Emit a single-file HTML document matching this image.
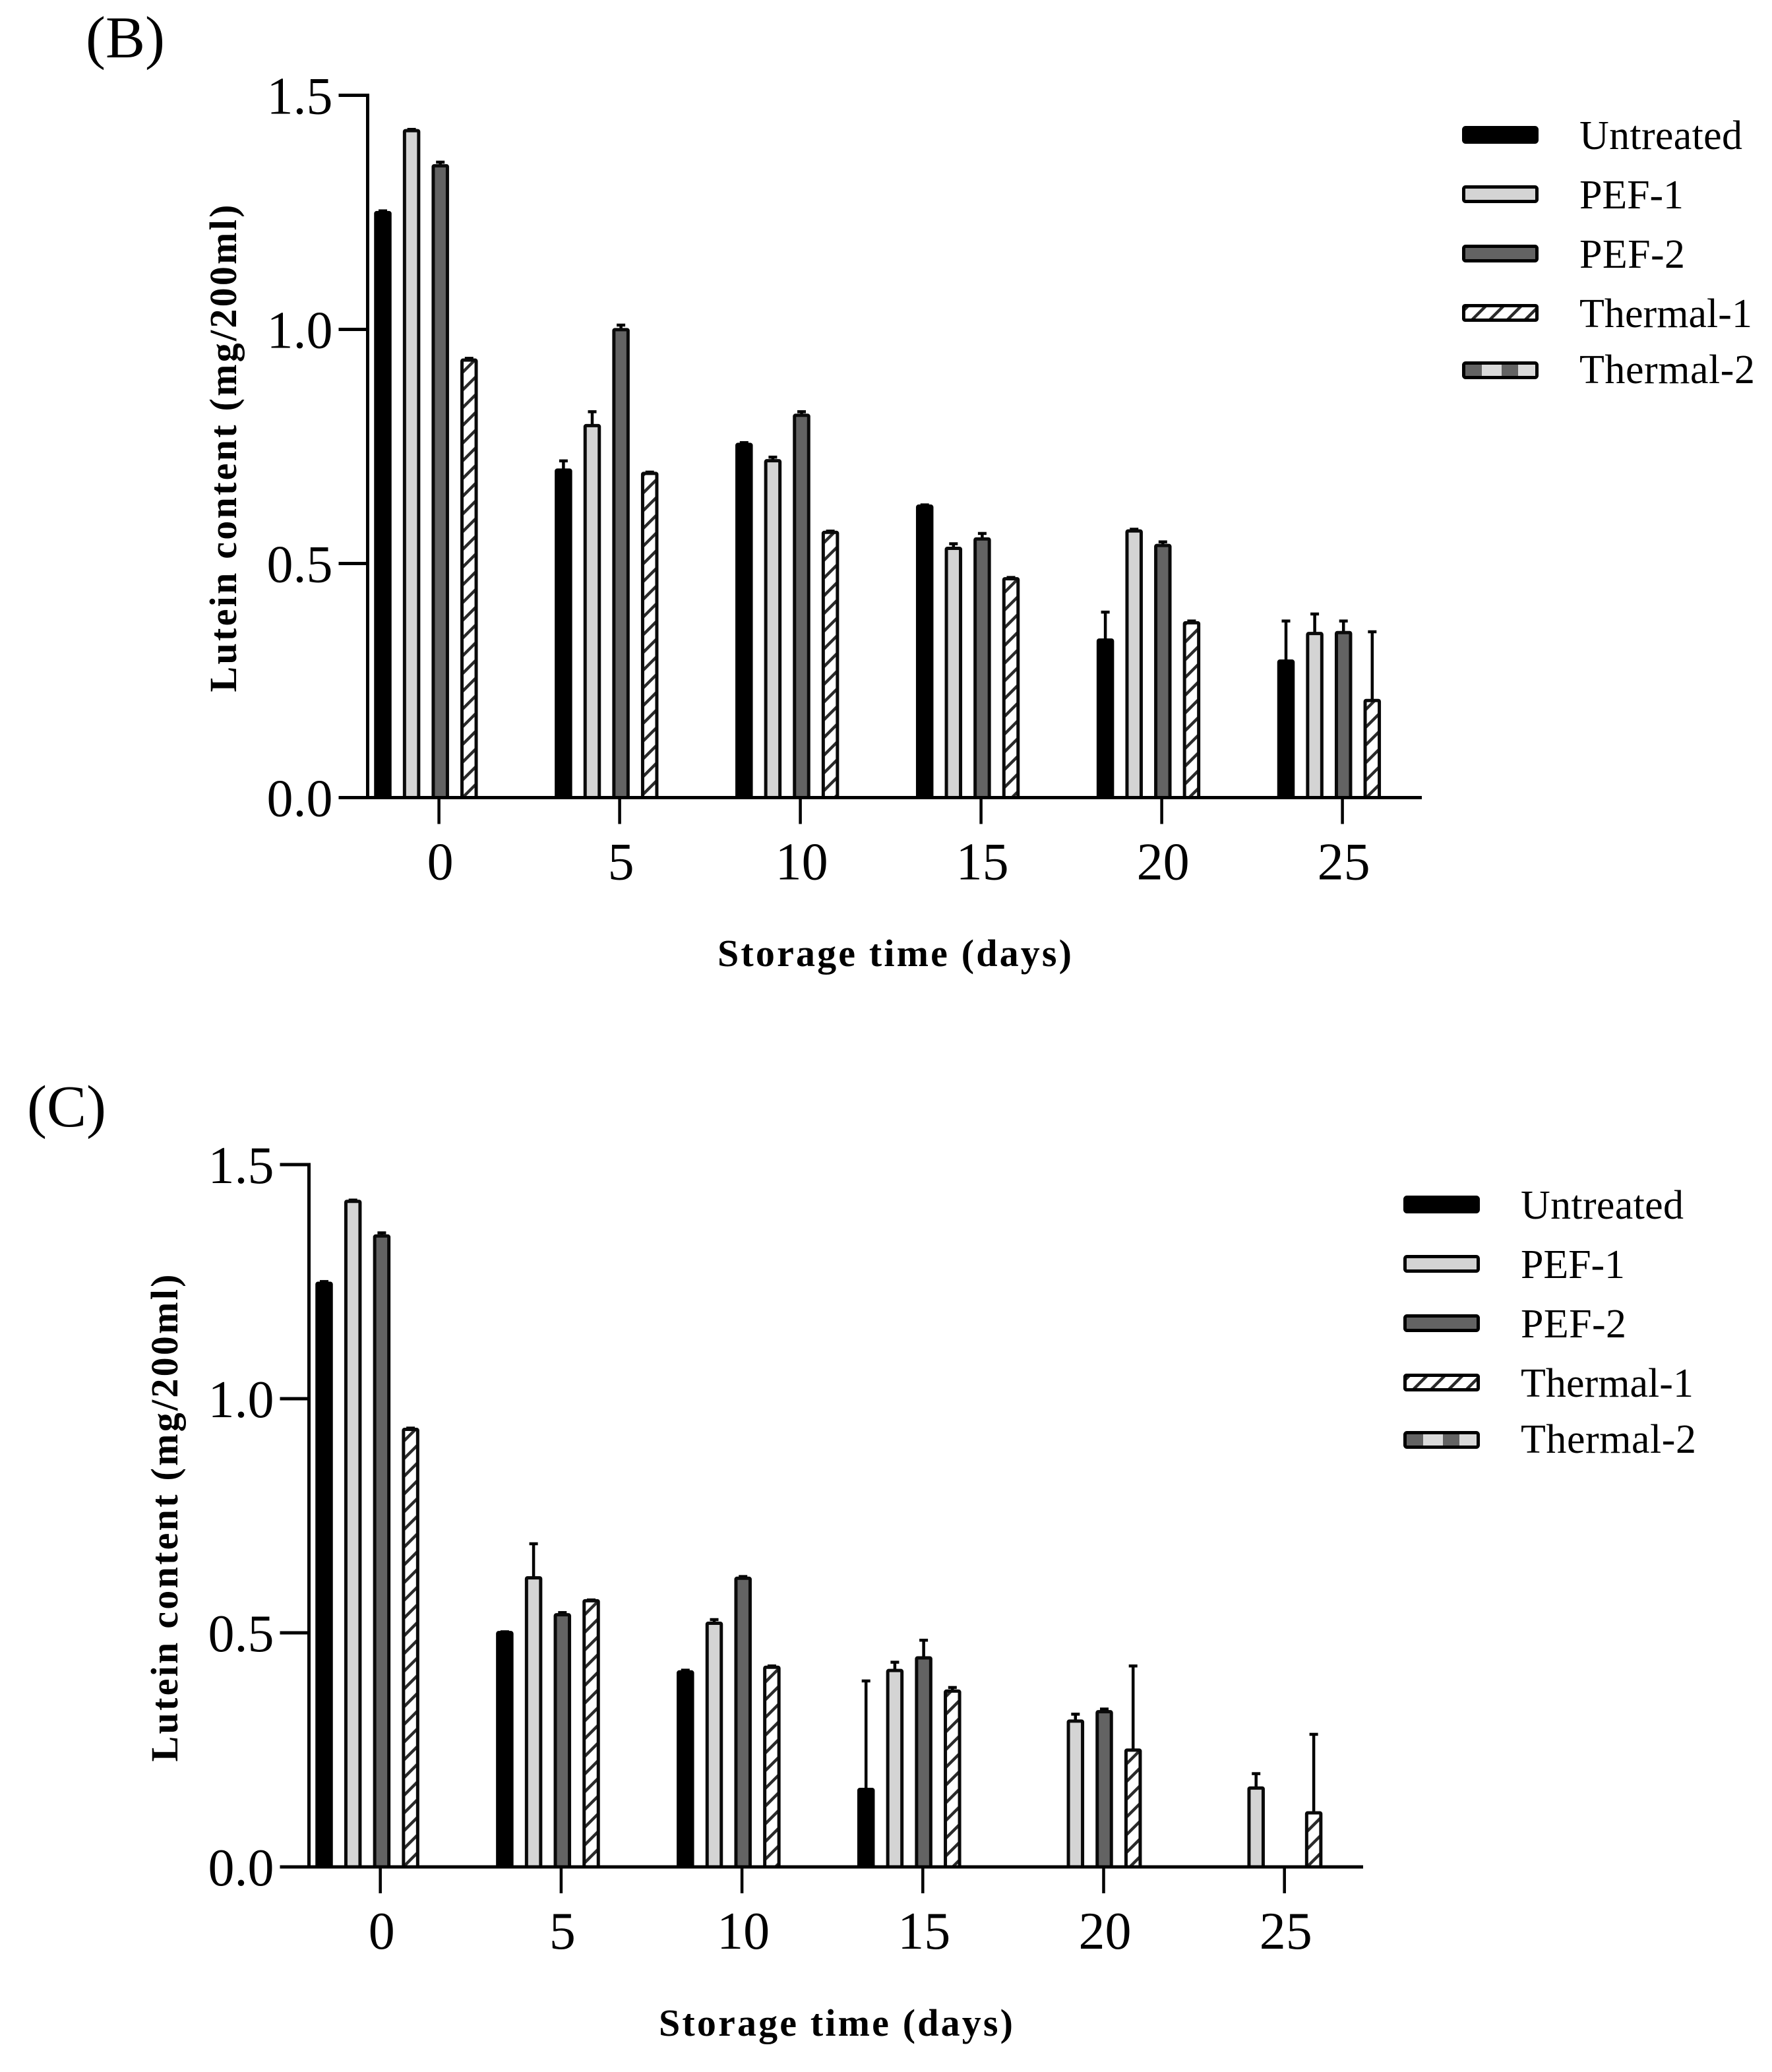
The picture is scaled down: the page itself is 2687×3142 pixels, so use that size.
<!DOCTYPE html>
<html lang="en">
<head>
<meta charset="utf-8">
<title>Lutein content during storage</title>
<style>
html,body{margin:0;padding:0;background:#fff}
svg{display:block}
text{font-family:"Liberation Serif",serif;fill:#000}
.tick{font-size:80px}
.title{font-size:58px;font-weight:bold}
.panel{font-size:90px}
.leg{font-size:62px}
</style>
</head>
<body>
<svg id="fig" xmlns="http://www.w3.org/2000/svg" width="2687" height="3142" viewBox="0 0 2687 3142">
<defs>
<pattern id="hatch" patternUnits="userSpaceOnUse" width="19" height="19" patternTransform="rotate(45)">
<rect width="19" height="19" fill="#fff"/>
<rect x="0" y="0" width="4.5" height="19" fill="#2a2a2a"/>
</pattern>
<pattern id="dots" patternUnits="userSpaceOnUse" x="2222" width="55" height="30">
<rect width="55" height="30" fill="#dadada"/>
<rect x="0" y="0" width="25" height="30" fill="#636363"/>
</pattern>
</defs>
<text class="panel" x="130" y="87">(B)</text>
<text class="panel" x="41" y="1708">(C)</text>
<g id="chart-b"></g>
<g id="chart-c"></g>
<text class="title" transform="translate(358 680) rotate(-90)" text-anchor="middle" textLength="739">Lutein content (mg/200ml)</text>
<text class="title" x="1088" y="1465" textLength="537">Storage time (days)</text>
<text class="title" transform="translate(269 2302) rotate(-90)" text-anchor="middle" textLength="739">Lutein content (mg/200ml)</text>
<text class="title" x="999" y="3087" textLength="537">Storage time (days)</text>

<g id="legend-b">
<g>
<rect x="2219.5" y="193.5" width="111" height="22" rx="3" fill="#000" stroke="#000" stroke-width="5"/>
<text class="leg" x="2395" y="226" textLength="247">Untreated</text></g>
<g>
<rect x="2219.5" y="283.5" width="111" height="22" rx="3" fill="#d4d4d4" stroke="#000" stroke-width="5"/>
<text class="leg" x="2395" y="316" textLength="158">PEF-1</text></g>
<g>
<rect x="2219.5" y="373.5" width="111" height="22" rx="3" fill="#636363" stroke="#000" stroke-width="5"/>
<text class="leg" x="2395" y="406" textLength="160">PEF-2</text></g>
<g>
<rect x="2219.5" y="463.5" width="111" height="22" rx="2" fill="url(#hatch)" stroke="#000" stroke-width="5"/>
<text class="leg" x="2395" y="496" textLength="262">Thermal-1</text></g>
<g>
<rect x="2219.5" y="550.5" width="111" height="22" rx="3" fill="url(#dots)" stroke="#000" stroke-width="5"/>
<text class="leg" x="2395" y="581" textLength="266">Thermal-2</text></g>
</g>

<g id="legend-c" transform="translate(-89 1622)">
<g>
<rect x="2219.5" y="193.5" width="111" height="22" rx="3" fill="#000" stroke="#000" stroke-width="5"/>
<text class="leg" x="2395" y="226" textLength="247">Untreated</text></g>
<g>
<rect x="2219.5" y="283.5" width="111" height="22" rx="3" fill="#d4d4d4" stroke="#000" stroke-width="5"/>
<text class="leg" x="2395" y="316" textLength="158">PEF-1</text></g>
<g>
<rect x="2219.5" y="373.5" width="111" height="22" rx="3" fill="#636363" stroke="#000" stroke-width="5"/>
<text class="leg" x="2395" y="406" textLength="160">PEF-2</text></g>
<g>
<rect x="2219.5" y="463.5" width="111" height="22" rx="2" fill="url(#hatch)" stroke="#000" stroke-width="5"/>
<text class="leg" x="2395" y="496" textLength="262">Thermal-1</text></g>
<g>
<rect x="2219.5" y="550.5" width="111" height="22" rx="3" fill="url(#dots)" stroke="#000" stroke-width="5"/>
<text class="leg" x="2395" y="581" textLength="266">Thermal-2</text></g>
</g>
</svg>
<script>
// Shared categories and axis labels
var categories = ['0', '5', '10', '15', '20', '25'];
var yTickValues = [0, 0.5, 1.0, 1.5];
var yTickLabels = ['0.0', '0.5', '1.0', '1.5'];
var seriesNames = ['untreated', 'pef-1', 'pef-2', 'thermal-1', 'thermal-2'];

// Panel B values
var bUntreated = [1.253, 0.703, 0.758, 0.626, 0.34, 0.295];
var bPef1 = [1.428, 0.798, 0.723, 0.536, 0.573, 0.354];
var bPef2 = [1.353, 1.003, 0.82, 0.556, 0.542, 0.356];
var bThermal1 = [0.938, 0.696, 0.57, 0.471, 0.377, 0.211];
var bThermal2 = [null, null, null, null, null, null];
// Panel B upper error magnitudes
var bUntreatedErr = [0.003, 0.019, 0.003, 0.002, 0.059, 0.085];
var bPef1Err = [0.002, 0.029, 0.007, 0.009, 0.003, 0.041];
var bPef2Err = [0.007, 0.009, 0.007, 0.011, 0.007, 0.024];
var bThermal1Err = [0.003, 0.002, 0.002, 0.002, 0.003, 0.146];
var bThermal2Err = [null, null, null, null, null, null];

// Panel C values
var cUntreated = [1.25, 0.504, 0.42, 0.169, null, null];
var cPef1 = [1.425, 0.621, 0.524, 0.423, 0.315, 0.172];
var cPef2 = [1.351, 0.542, 0.62, 0.45, 0.335, null];
var cThermal1 = [0.938, 0.572, 0.43, 0.379, 0.253, 0.119];
var cThermal2 = [null, null, null, null, null, null];
// Panel C upper error magnitudes
var cUntreatedErr = [0.003, 0.001, 0.003, 0.231, null, null];
var cPef1Err = [0.002, 0.072, 0.007, 0.017, 0.014, 0.03];
var cPef2Err = [0.006, 0.004, 0.003, 0.037, 0.005, null];
var cThermal1Err = [0.002, 0.001, 0.002, 0.007, 0.179, 0.167];
var cThermal2Err = [null, null, null, null, null, null];

var NS = 'http://www.w3.org/2000/svg';
var fills = ['#000', '#d4d4d4', '#636363', 'url(#hatch)', 'url(#dots)'];

function make(parent, tag, attrs) {
  var el = document.createElementNS(NS, tag);
  for (var k in attrs) el.setAttribute(k, attrs[k]);
  parent.appendChild(el);
  return el;
}

function drawChart(id, geo, values, errors) {
  var root = document.getElementById(id);
  var y = function (v) { return geo.y0 - geo.yScale * v; };
  var tickX = function (i) { return geo.tick0 + geo.tickStep * i; };
  var barX = function (i, s) { return geo.bar0 + geo.groupStep * i + geo.barStep * s; };
  var barW = 26.5, sw = 5;

  values.forEach(function (series, s) {
    series.forEach(function (v, i) {
      if (v === null) return;
      var cx = barX(i, s);
      var top = y(v);
      var e = errors[s][i];
      if (e !== null) {
        var errTop = y(v + e);
        var stem = make(root, 'line', { x1: cx, x2: cx, y1: top + 2, y2: errTop, stroke: '#000', 'stroke-width': 4.5 });
        
        
        var cap = make(root, 'line', { x1: cx - 6.5, x2: cx + 6.5, y1: errTop + 2, y2: errTop + 2, stroke: '#000', 'stroke-width': 4.5 });
        
        
      }
      var bar = make(root, 'rect', {
        x: cx - barW / 2 + sw / 2,
        y: top + sw / 2,
        width: barW - sw,
        height: Math.max(0, geo.y0 - top - sw / 2),
        fill: fills[s],
        stroke: s === 0 ? '#000' : '#0a0a0a',
        'stroke-width': sw,
        rx: 1.5
      });
      
      
    });
  });

  var yAxis = make(root, 'line', { x1: geo.axisX, x2: geo.axisX, y1: y(1.5) - 2.5, y2: geo.y0 + 2.5, stroke: '#000', 'stroke-width': 5 });
  
  
  var xAxis = make(root, 'line', { x1: geo.axisX - 44, x2: geo.axisRight, y1: geo.y0, y2: geo.y0, stroke: '#000', 'stroke-width': 5 });
  
  

  yTickValues.forEach(function (v, i) {
    var t = make(root, 'line', { x1: geo.axisX - 44, x2: geo.axisX, y1: y(v), y2: y(v), stroke: '#000', 'stroke-width': 5 });
    
    
    var lab = make(root, 'text', { class: 'tick', x: geo.axisX - 53, y: y(v) + 28, 'text-anchor': 'end' });
    
    
    lab.textContent = yTickLabels[i];
  });

  categories.forEach(function (c, i) {
    var t = make(root, 'line', { x1: tickX(i), x2: tickX(i), y1: geo.y0, y2: geo.y0 + 40, stroke: '#000', 'stroke-width': 4.5 });
    
    
    var lab = make(root, 'text', { class: 'tick', x: tickX(i) + 2, y: geo.y0 + 124, 'text-anchor': 'middle' });
    
    
    lab.textContent = c;
  });
}

drawChart('chart-b',
  { y0: 1209.5, yScale: 710, axisX: 557.5, axisRight: 2156, tick0: 665.6, tickStep: 274, bar0: 580.5, groupStep: 273.9, barStep: 43.6 },
  [bUntreated, bPef1, bPef2, bThermal1, bThermal2],
  [bUntreatedErr, bPef1Err, bPef2Err, bThermal1Err, bThermal2Err]);

drawChart('chart-c',
  { y0: 2831, yScale: 710, axisX: 468.5, axisRight: 2067, tick0: 576.7, tickStep: 274.2, bar0: 491.5, groupStep: 273.9, barStep: 43.7 },
  [cUntreated, cPef1, cPef2, cThermal1, cThermal2],
  [cUntreatedErr, cPef1Err, cPef2Err, cThermal1Err, cThermal2Err]);
</script>
</body>
</html>
